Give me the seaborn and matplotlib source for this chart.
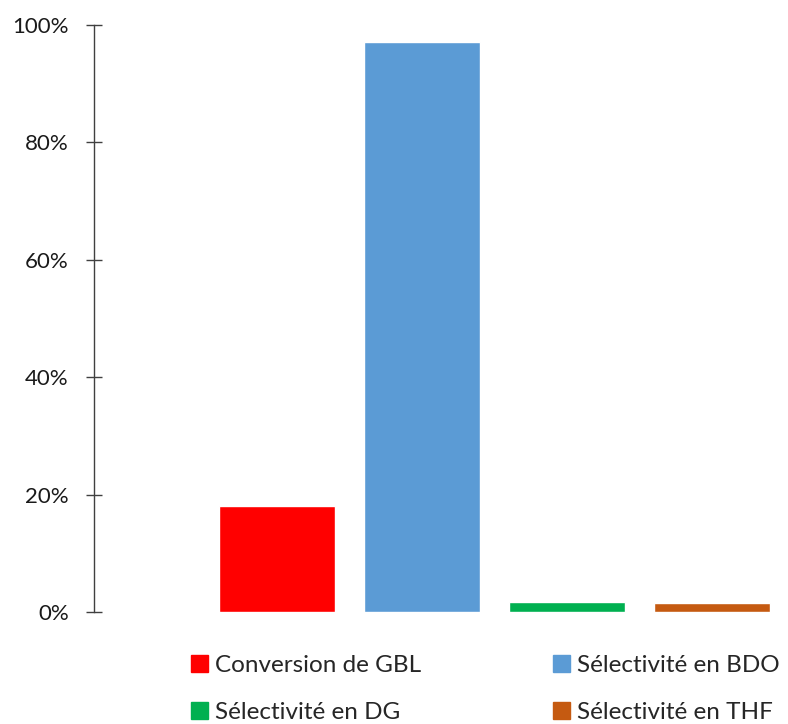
import matplotlib
matplotlib.use('Agg')
import matplotlib.pyplot as plt
import matplotlib.ticker as mticker
import matplotlib.patches as mpatches
import pandas as pd
import seaborn as sb

# data
series = ['Conversion de GBL', 'Sélectivité en BDO', 'Sélectivité en DG', 'Sélectivité en THF']
values = [0.18, 0.971, 0.017, 0.015]
colors = ['#FF0000', '#5B9BD5', '#00B050', '#C55A11']
yticks = [0, 0.2, 0.4, 0.6, 0.8, 1.0]

sb.set_style('white')
plt.rcParams['font.family'] = ['Lato', 'DejaVu Sans']

df = pd.DataFrame({'serie': series, 'valeur': values})

fig = plt.figure(figsize=[7.88, 7.24], dpi=100)
ax = fig.add_axes([94/788, 112/724, 1 - 94/788, 587/724])
sb.barplot(data=df, x='serie', y='valeur', hue='serie', palette=colors,
           width=0.8, dodge=False, legend=False, ax=ax, saturation=1)

ax.set_xlim(-1.262, 3.524)
ax.set_ylim(0, 1.0)
ax.set_yticks(yticks)
ax.yaxis.set_major_formatter(mticker.PercentFormatter(1.0, decimals=0))
ax.set_xticks([])
ax.set_xlabel('')
ax.set_ylabel('')
for s in ['top', 'right', 'bottom']:
    ax.spines[s].set_visible(False)
ax.spines['left'].set_color('#404040')
ax.spines['left'].set_linewidth(1.0)
ax.tick_params(axis='y', direction='inout', length=12.2, width=1.0, color='#404040',
               labelsize=16, labelcolor='#1a1a1a', pad=12, left=True)

# legend: row1 GBL, BDO ; row2 DG, THF (column-major filling)
handles = [mpatches.Patch(color=c, label=l) for c, l in zip(colors, series)]
order = [0, 2, 1, 3]
fig.legend([handles[i] for i in order], [series[i] for i in order],
           ncol=2, loc='upper left', bbox_to_anchor=(191/788, 1 - 655/724),
           frameon=False, fontsize=17.5, handlelength=0.7, handleheight=0.7,
           handletextpad=0.3, columnspacing=5.42, labelspacing=1.08, borderaxespad=0,
           borderpad=0)

fig.savefig('out.png', dpi=100)
